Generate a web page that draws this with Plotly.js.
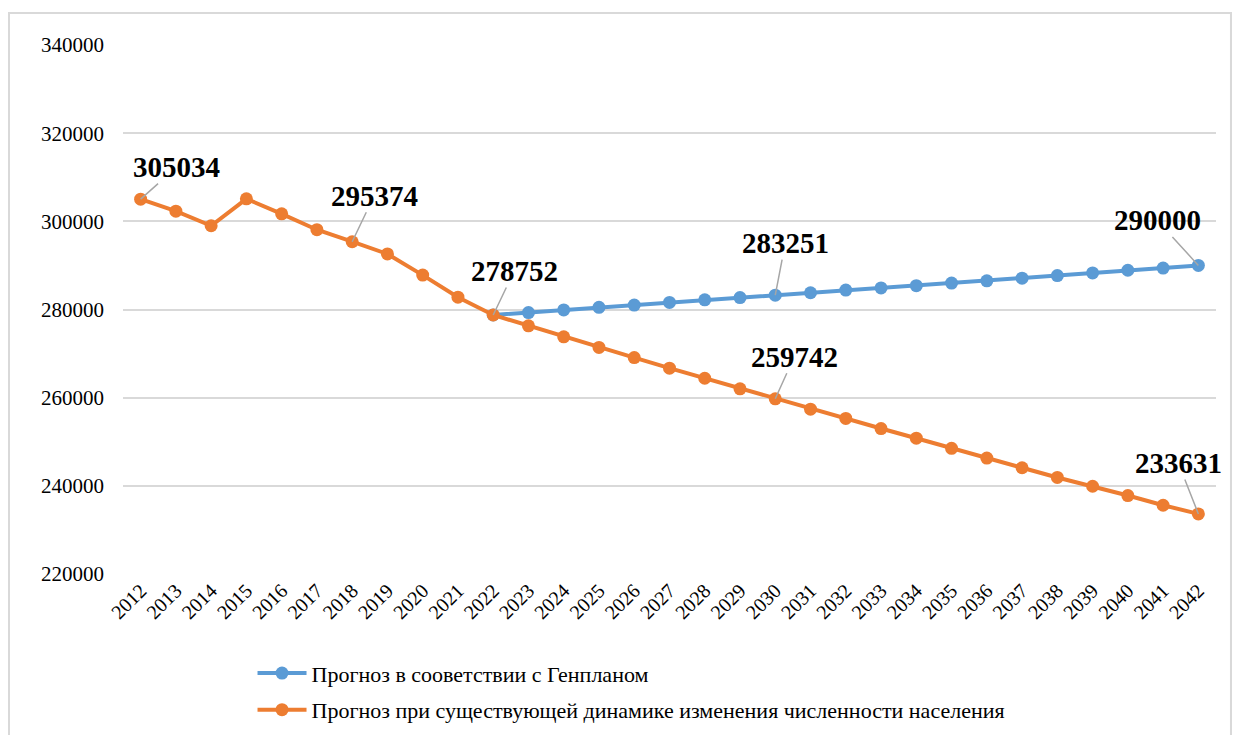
<!DOCTYPE html>
<html>
<head>
<meta charset="utf-8">
<script src="https://cdn.plot.ly/plotly-3.0.1.min.js"></script>
<style>html,body{margin:0;padding:0;background:#fff;}#chart{width:1235px;height:735px;}</style>
</head>
<body>
<div id="chart"></div>
<script>
const years = ["2012","2013","2014","2015","2016","2017","2018","2019","2020","2021","2022","2023","2024","2025","2026","2027","2028","2029","2030","2031","2032","2033","2034","2035","2036","2037","2038","2039","2040","2041","2042"];
const genplanYears = ["2022","2023","2024","2025","2026","2027","2028","2029","2030","2031","2032","2033","2034","2035","2036","2037","2038","2039","2040","2041","2042"];
const genplanValues = [278752,279300,279900,280500,281000,281600,282200,282700,283251,283800,284400,284900,285400,286000,286500,287100,287700,288300,288900,289400,290000];
const trendValues = [305034,302300,299000,305100,301700,298100,295374,292600,287800,282800,278752,276300,273800,271400,269100,266700,264400,262000,259742,257400,255300,253000,250800,248500,246300,244100,241900,239900,237800,235600,233631];
const seriesNames = ["Прогноз в сооветствии с Генпланом","Прогноз при существующей динамике изменения численности населения"];
const yTicks = [220000,240000,260000,280000,300000,320000,340000];
const labelled = [
  {s:1, year:"2012", ax:36, ay:-32},
  {s:1, year:"2018", ax:22, ay:-46},
  {s:1, year:"2022", ax:21, ay:-44},
  {s:0, year:"2030", ax:10, ay:-52},
  {s:1, year:"2030", ax:19, ay:-42},
  {s:0, year:"2042", ax:-41, ay:-45},
  {s:1, year:"2042", ax:-20, ay:-51}
];

const FONT = "'Liberation Serif', 'Times New Roman', serif";
const colors = ["#5b9bd5","#ed7d31"];
const seriesX = [genplanYears, years];
const seriesY = [genplanValues, trendValues];

const traces = seriesNames.map((name,i)=>({
  type:"scatter", mode:"lines+markers", name:name,
  x:seriesX[i], y:seriesY[i], legendgroup:"g"+i,
  line:{color:colors[i], width:4},
  marker:{color:colors[i], size:13}
}));

const annotations = labelled.map(a=>{
  const idx = seriesX[a.s].indexOf(a.year);
  const v = seriesY[a.s][idx];
  return {x:years.indexOf(a.year), y:v, xref:"x", yref:"y", text:"<b>"+v+"</b>",
    showarrow:true, arrowhead:0, arrowwidth:1.5, arrowcolor:"#a6a6a6",
    ax:a.ax, ay:a.ay, standoff:0, startstandoff:0,
    font:{family:FONT, size:29, color:"#000"}, borderpad:0};
});

const layout = {
  width:1235, height:735,
  margin:{l:123, r:19, t:45, b:161, autoexpand:false},
  paper_bgcolor:"#fff", plot_bgcolor:"#fff",
  font:{family:FONT, color:"#000"},
  showlegend:true,
  legend:{x:0.1185, xanchor:"left", y:-0.148, yanchor:"top", orientation:"v", itemwidth:49,
    font:{family:FONT, size:22, color:"#000"}, tracegroupgap:5, bgcolor:"rgba(0,0,0,0)"},
  xaxis:{type:"category", categoryorder:"array", categoryarray:years, range:[-0.5,30.5], tickangle:-45,
    showgrid:false, zeroline:false, showline:false, ticks:"",
    tickfont:{family:FONT, size:20, color:"#000"}},
  yaxis:{range:[220000,340000], tickvals:yTicks, ticktext:yTicks.map(String), showgrid:true,
    gridcolor:"#d9d9d9", gridwidth:2, zeroline:false, showline:false, ticks:"",
    ticklabelstandoff:18, tickfont:{family:FONT, size:21, color:"#000"}},
  annotations:annotations,
  shapes:[{type:"rect", xref:"paper", yref:"paper", x0:-0.1043, x1:1.0137, y0:-0.32, y1:1.0605,
    line:{color:"#d9d9d9", width:2}, fillcolor:"rgba(0,0,0,0)", layer:"below"}]
};

Plotly.newPlot("chart", traces, layout, {displayModeBar:false, staticPlot:true});
</script>
</body>
</html>
